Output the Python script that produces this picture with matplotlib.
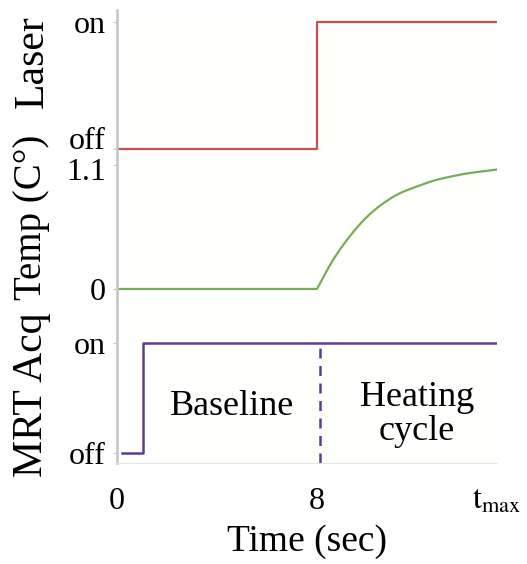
import numpy as np
import matplotlib.pyplot as plt
import matplotlib as mpl
from matplotlib.transforms import ScaledTranslation

mpl.rcParams['font.family'] = ['Liberation Serif', 'DejaVu Serif']
mpl.rcParams['mathtext.fontset'] = 'stix'

# data
t_max = 15.2
laser_t = [0, 8, 8, t_max]
laser_v = [0, 0, 1, 1]

temp_t = [8.0, 8.65, 9.32, 10.0, 10.65, 11.32, 12.0, 12.65, 13.3, 14.0, 15.2]
temp_v = [0, 0.26, 0.47, 0.64, 0.76, 0.85, 0.91, 0.96, 0.995, 1.025, 1.06]

mrt_t = [0.2, 1.04, 1.04, t_max]
mrt_v = [0, 0, 1, 1]

xticks = [0, 8, t_max]
xticklabels = ['0', '8', r'$\mathrm{t}_{\mathrm{max}}$']


def pchip(x, y, xn):
    # monotone cubic through the read points (Fritsch-Carlson)
    x = np.asarray(x, float); y = np.asarray(y, float)
    h = np.diff(x); d = np.diff(y) / h
    m = np.zeros_like(y)
    m[0], m[-1] = d[0], d[-1]
    for i in range(1, len(y) - 1):
        if d[i-1] * d[i] > 0:
            w1 = 2*h[i] + h[i-1]; w2 = h[i] + 2*h[i-1]
            m[i] = (w1 + w2) / (w1/d[i-1] + w2/d[i])
    idx = np.clip(np.searchsorted(x, xn) - 1, 0, len(h) - 1)
    s = (xn - x[idx]) / h[idx]
    h00 = 2*s**3 - 3*s**2 + 1; h10 = s**3 - 2*s**2 + s
    h01 = -2*s**3 + 3*s**2; h11 = s**3 - s**2
    return h00*y[idx] + h10*h[idx]*m[idx] + h01*y[idx+1] + h11*h[idx]*m[idx+1]


W, H = 527, 564
fig = plt.figure(figsize=(W/100, H/100), dpi=100)

def box(top, bottom, left=117, right=497):
    return [left/W, 1-bottom/H, (right-left)/W, (bottom-top)/H]

ax1 = fig.add_axes(box(10, 155))
ax2 = fig.add_axes(box(155, 300))
ax3 = fig.add_axes(box(300, 463))

ax1.plot(laser_t, laser_v, color='#c8504f', lw=1.6)
ax1.set_ylim(-0.047, 1.094)
ax1.set_yticks([0, 1])
ax1.set_yticklabels(['off', 'on'])

tt = np.linspace(8, t_max, 200)
tv = pchip(temp_t, temp_v, tt)
ax2.plot([0] + list(tt), [0] + list(tv), color='#76ae58', lw=1.6)
ax2.set_ylim(-0.098, 1.189)
ax2.set_yticks([0, 1.1])
ax2.set_yticklabels(['0', '1.1'])

ax3.plot(mrt_t, mrt_v, color='#5f3b96', lw=1.8)
ax3.plot([8.1, 8.1], [-0.091, 1], color='#5f3b96', lw=1.8, ls=(0, (4, 3)))
ax3.set_ylim(-0.091, 1.39)
ax3.set_yticks([0, 1])
ax3.set_yticklabels(['off', 'on'])
ax3.text(4.6, 0.42, 'Baseline', fontsize=26, ha='center', va='center')
ax3.text(12.0, 0.35, 'Heating\ncycle', fontsize=26, ha='center', va='center', linespacing=1.05)

for ax in (ax1, ax2, ax3):
    ax.set_xlim(0, t_max)
    for s in ('top', 'right', 'bottom'):
        ax.spines[s].set_visible(False)
    ax.spines['left'].set_color('#c4c4c4')
    ax.spines['left'].set_linewidth(1.8)
    ax.tick_params(axis='y', length=3, color='#c4c4c4', labelsize=23, pad=5)
    ax.tick_params(axis='x', length=0)
    ax.set_facecolor('#fffffd')

# label offsets as in the reference
lab = ax1.get_yticklabels()[0]
lab.set_transform(lab.get_transform() + ScaledTranslation(0, 11/100, fig.dpi_scale_trans))
lab = ax2.get_yticklabels()[1]
lab.set_transform(lab.get_transform() + ScaledTranslation(0, -4/100, fig.dpi_scale_trans))

ax1.set_xticks([])
ax2.set_xticks([])
ax3.spines['bottom'].set_visible(True)
ax3.spines['bottom'].set_color('#e6e6e6')
ax3.set_xticks(xticks)
ax3.set_xticklabels(xticklabels)
ax3.tick_params(axis='x', labelsize=23, pad=17)
ax3.set_xlabel('Time (sec)', fontsize=27, labelpad=6)

fig.text(32/W, 1-62/H, 'Laser', rotation=90, fontsize=30, ha='center', va='center')
fig.text(32/W, 1-217/H, 'Temp (C°)', rotation=90, fontsize=28, ha='center', va='center')
fig.text(32/W, 1-395/H, 'MRT Acq', rotation=90, fontsize=30, ha='center', va='center')

fig.savefig('out.png', dpi=100)
